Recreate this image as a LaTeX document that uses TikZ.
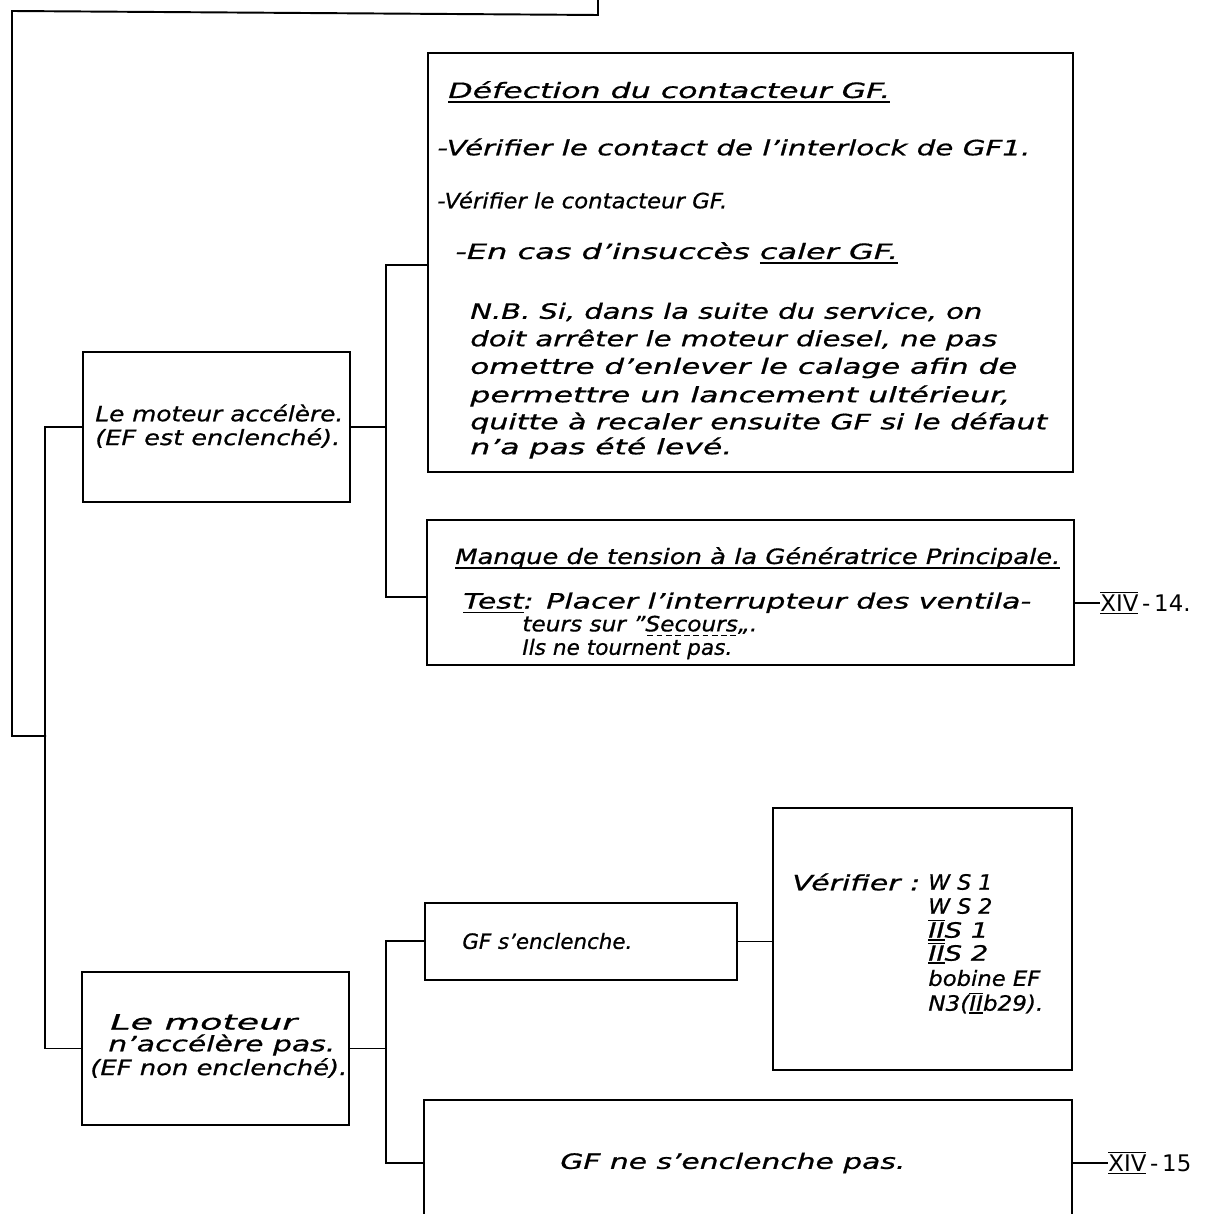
\documentclass[tikz,border=0pt]{standalone}
\usepackage{fontspec}
\setmainfont{DejaVu Sans}[ItalicFeatures={FakeBold=0.7}]
\usepackage{graphicx}
\usetikzlibrary{fit}
% one drawing unit = 0.02cm
\newdimen\pxu \pxu=0.56905pt
% set a line of lettering to a given width, keeping its height
\newcommand\fw[2]{\resizebox{#1\pxu}{\height}{#2}}
% solid underline
\newcommand\ul[1]{\setbox0\hbox{#1}\leavevmode\rlap{\raisebox{-2.8pt}{\vrule width\wd0 height 0.8pt depth 0pt}}\box0}
% dashed underline
\newcommand\dul[1]{\setbox0\hbox{#1}\leavevmode\rlap{\raisebox{-2.8pt}{\hbox to\wd0{\xleaders\hbox to 4.5pt{\hss\vrule height 0.8pt depth 0pt width 3pt\hss}\hfill}}}\box0}
% roman numeral with bars above and below
\newcommand\rn[1]{\setbox0\hbox{#1}\leavevmode\rlap{\raisebox{-1.6pt}{\vrule width\wd0 height 0.7pt depth 0pt}}\rlap{\raisebox{\dimexpr\ht0+0.9pt\relax}{\vrule width\wd0 height 0.7pt depth 0pt}}\box0}
\begin{document}
\begin{tikzpicture}[x=0.02cm, y=-0.02cm,
  wire/.style={line width=1.1pt, line join=miter},
  box/.style={draw, line width=1.1pt, inner sep=0pt},
  txt/.style={inner sep=0pt, anchor=west, font=\fontsize{12}{14}\selectfont\itshape},
  ref/.style={inner sep=0pt, anchor=west, font=\fontsize{13}{15}\selectfont\upshape}]
\useasboundingbox (0,0) rectangle (1219,1213);
\fill[white] (0,0) rectangle (1219,1213);
\clip (0,0) rectangle (1219,1213);

% ---- boxes ----
\node[box, fit={(83,352) (350,502)}] (accel) {};
\node[box, fit={(428,53) (1073,472)}] (defect) {};
\node[box, fit={(427,520) (1074,665)}] (manque) {};
\node[box, fit={(82,972) (349,1125)}] (noaccel) {};
\node[box, fit={(425,903) (737,980)}] (gfon) {};
\node[box, fit={(773,808) (1072,1070)}] (verif) {};
\node[box, fit={(424,1100) (1072,1260)}] (gfoff) {};

% ---- texts ----
\node[txt] (a1) at (95,413) {\fw{248}{Le moteur accélère.}};
\node[txt] (a2) at (95,438) {\fw{245}{(EF est enclenché).}};

\node[txt] (d0) at (448,92) {\fw{442}{\ul{Défection du contacteur GF.}}};
\node[txt] (d1) at (437,147) {\fw{593}{-Vérifier le contact de l'interlock de GF1.}};
\node[txt] (d2) at (437,200) {\fw{290}{-Vérifier le contacteur GF.}};
\node[txt] (d3) at (455,253) {\fw{443}{-En cas d'insuccès \ul{caler GF.}}};
\node[txt] (d4) at (470,312) {\fw{512}{N.B. Si, dans la suite du service, on}};
\node[txt] (d5) at (470,340) {\fw{527}{doit arrêter le moteur diesel, ne pas}};
\node[txt] (d6) at (470,368) {\fw{547}{omettre d'enlever le calage afin de}};
\node[txt] (d7) at (470,396) {\fw{540}{permettre un lancement ultérieur,}};
\node[txt] (d8) at (470,423) {\fw{577}{quitte à recaler ensuite GF si le défaut}};
\node[txt] (d9) at (470,448) {\fw{262}{n'a pas été levé.}};

\node[txt] (m0) at (455,558) {\fw{605}{\ul{Manque de tension à la Génératrice Principale.}}};
\node[txt] (m1) at (463,603) {\fw{568}{\ul{Test}: Placer l'interrupteur des ventila-}};
\node[txt] (m2) at (522,626) {\fw{235}{teurs sur ''\dul{Secours},,.}};
\node[txt] (m3) at (522,649) {\fw{210}{Ils ne tournent pas.}};
\node[ref] (r14) at (1100,603) {\rn{XIV}\,-\,14.};

\node[txt] (b1) at (110,1022) {\fw{187}{Le moteur}};
\node[txt] (b2) at (108,1045) {\fw{227}{n'accélère pas.}};
\node[txt] (b3) at (90,1068) {\fw{257}{(EF non enclenché).}};

\node[txt] (g1) at (462,941) {\fw{170}{GF s'enclenche.}};

\node[txt] (v0) at (792,882) {\fw{128}{Vérifier :}};
\node[txt] (v1) at (928,882) {\fw{64}{W S 1}};
\node[txt] (v2) at (928,906) {\fw{64}{W S 2}};
\node[txt] (v3) at (928,930) {\fw{60}{\rn{II} S 1}};
\node[txt] (v4) at (928,953) {\fw{60}{\rn{II} S 2}};
\node[txt] (v5) at (928,978) {\fw{112}{bobine EF}};
\node[txt] (v6) at (928,1003) {\fw{115}{N3(\rn{II}b29).}};

\node[txt] (n1) at (560,1163) {\fw{345}{GF ne s'enclenche pas.}};
\node[ref] (r15) at (1108,1163) {\rn{XIV}\,-\,15};

% ---- connectors ----
\coordinate (feed) at (598,0);
\coordinate (t1) at (598,15);
\coordinate (t2) at (12,11);
\coordinate (t3) at (12,736);
\coordinate (t4) at (46,736);
\draw[wire] (feed) -- (t1) -- (t2) -- (t3) -- (t4);
\draw[wire] (accel.west) -- ++(-37,0) |- (noaccel.west);

\coordinate (j1) at (386,265);
\coordinate (j2) at (386,597);
\draw[wire] (defect.west |- j1) -- (j1) -- (j2) -- (manque.west |- j2);
\draw[wire] (accel.east) -- (accel.east -| j1);
\draw[wire] (manque.east |- r14.west) -- (r14.west);

\coordinate (k1) at (386,941);
\coordinate (k2) at (386,1163);
\draw[wire] (gfon.west |- k1) -- (k1) -- (k2) -- (gfoff.west |- k2);
\draw[wire] (noaccel.east) -- (noaccel.east -| k1);
\draw[wire] (gfon.east) -- (gfon.east -| verif.west);
\draw[wire] (gfoff.east |- r15.west) -- (r15.west);
\end{tikzpicture}
\end{document}
